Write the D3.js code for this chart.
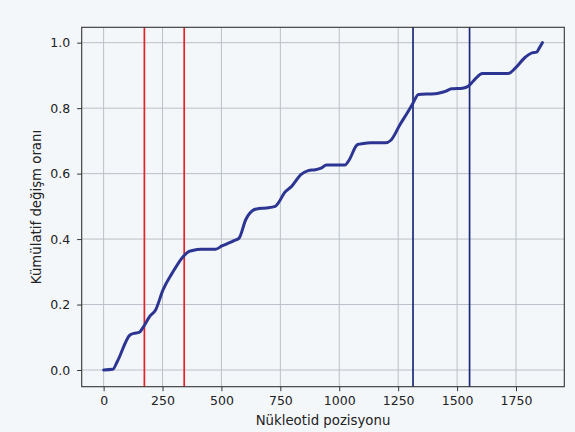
<!DOCTYPE html>
<html>
<head>
<meta charset="utf-8">
<script src="https://cdn.jsdelivr.net/npm/d3@7/dist/d3.min.js"></script>
<style>
  html, body { margin: 0; padding: 0; background: #f4f7fa; }
  svg { display: block; }
</style>
</head>
<body>
<svg id="chart" width="575" height="432"></svg>
<script>
// ---- data ----
const positions = [0, 39, 58, 112, 128, 151, 170, 195, 221, 252, 291, 338, 357, 377, 416, 475, 502, 525, 556, 575,
  603, 634, 650, 689, 728, 743, 767, 798, 837, 868, 899, 923, 946, 1024, 1039, 1078, 1102, 1133, 1195, 1219,
  1258, 1289, 1312, 1336, 1406, 1429, 1453, 1476, 1523, 1547, 1569, 1608, 1717, 1748, 1787, 1818, 1837, 1850, 1862];
const cumulative = [0, 0.002, 0.026, 0.107, 0.112, 0.115, 0.133, 0.163, 0.184, 0.245, 0.296, 0.347, 0.360, 0.365, 0.369, 0.369, 0.379, 0.386, 0.396, 0.403,
  0.459, 0.488, 0.492, 0.495, 0.500, 0.512, 0.541, 0.561, 0.597, 0.609, 0.612, 0.617, 0.626, 0.626, 0.638, 0.689, 0.692, 0.694, 0.694, 0.702,
  0.750, 0.786, 0.814, 0.842, 0.844, 0.847, 0.852, 0.859, 0.861, 0.867, 0.883, 0.906, 0.906, 0.923, 0.954, 0.969, 0.971, 0.985, 1.0];
const redLines = [173, 342];
const blueLines = [1313, 1553];
const xTicks = [0, 250, 500, 750, 1000, 1250, 1500, 1750];
const yTicks = [0.0, 0.2, 0.4, 0.6, 0.8, 1.0];
const xLabel = "Nükleotid pozisyonu";
const yLabel = "Kümülatif değişm oranı";

// ---- layout ----
const svg = d3.select("#chart");
const L = 81.7, R = 564.3, T = 27.3, B = 386.7;
const x = d3.scaleLinear().domain([-93, 1955]).range([L, R]);
const y = d3.scaleLinear().domain([-0.051, 1.047]).range([B, T]);

svg.append("rect").attr("width", 575).attr("height", 432).attr("fill", "#f4f7fa");

// grid
const grid = svg.append("g");
grid.selectAll("line.gx").data(xTicks).enter().append("line")
  .attr("x1", d => x(d)).attr("x2", d => x(d)).attr("y1", T).attr("y2", B)
  .attr("stroke", "#b9c0c8").attr("stroke-width", 1);
grid.selectAll("line.gy").data(yTicks).enter().append("line")
  .attr("x1", L).attr("x2", R).attr("y1", d => y(d)).attr("y2", d => y(d))
  .attr("stroke", "#b9c0c8").attr("stroke-width", 1);

// vertical markers
svg.selectAll("line.red").data(redLines).enter().append("line")
  .attr("x1", d => x(d)).attr("x2", d => x(d)).attr("y1", T).attr("y2", B)
  .attr("stroke", "#e3232a").attr("stroke-width", 1.7);
svg.selectAll("line.blue").data(blueLines).enter().append("line")
  .attr("x1", d => x(d)).attr("x2", d => x(d)).attr("y1", T).attr("y2", B)
  .attr("stroke", "#1c2a78").attr("stroke-width", 1.7);

// curve
const pts = positions.map((p, i) => [p, cumulative[i]]);
const line = d3.line().x(d => x(d[0])).y(d => y(d[1])).curve(d3.curveMonotoneX);
svg.append("path").datum(pts).attr("d", line)
  .attr("fill", "none").attr("stroke", "#2d3593").attr("stroke-width", 3)
  .attr("stroke-linejoin", "round").attr("stroke-linecap", "round");

// frame
svg.append("rect").attr("x", L).attr("y", T).attr("width", R - L).attr("height", B - T)
  .attr("fill", "none").attr("stroke", "#333").attr("stroke-width", 1.1);

// axes
const xAxis = d3.axisBottom(x).tickValues(xTicks).tickSize(4.5).tickPadding(5).tickFormat(d3.format("d"));
const gx = svg.append("g").attr("transform", `translate(0,${B})`).call(xAxis);
const yAxis = d3.axisLeft(y).tickValues(yTicks).tickSize(4.5).tickPadding(7).tickFormat(d3.format(".1f"));
const gy = svg.append("g").attr("transform", `translate(${L},0)`).call(yAxis);
[gx, gy].forEach(g => {
  g.select(".domain").remove();
  g.selectAll(".tick line").attr("stroke", "#333").attr("stroke-width", 1);
  g.selectAll(".tick text").attr("fill", "#222").style("font-family", "DejaVu Sans").style("font-size", "12.5px");
});

svg.append("text").attr("x", (L + R) / 2).attr("y", 425).attr("text-anchor", "middle")
  .style("font-family", "DejaVu Sans").style("font-size", "13.3px").attr("fill", "#222").text(xLabel);
svg.append("text").attr("transform", `translate(41,${(T + B) / 2}) rotate(-90)`).attr("text-anchor", "middle")
  .style("font-family", "DejaVu Sans").style("font-size", "13.3px").attr("fill", "#222").text(yLabel);
</script>
</body>
</html>
